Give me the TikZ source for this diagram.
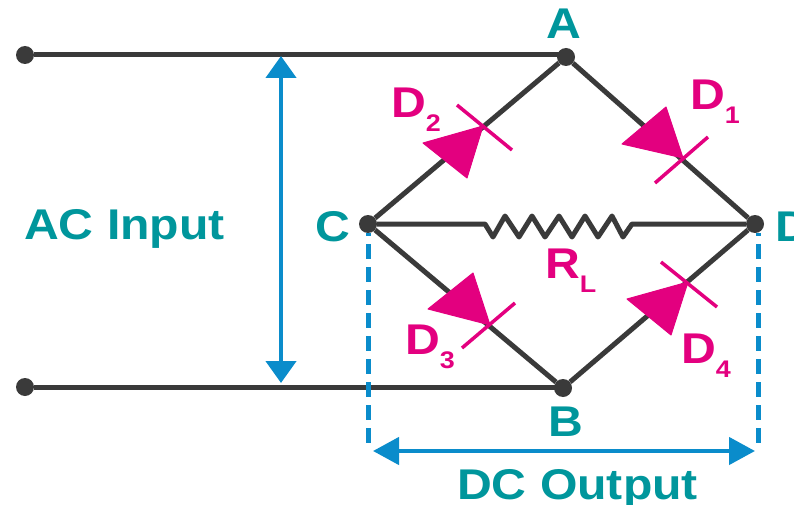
\documentclass[tikz,border=0pt]{standalone}
\usepackage{fontspec}
\setmainfont[FakeStretch=1.12]{Liberation Sans}
\usetikzlibrary{arrows.meta}

\definecolor{wiregray}{HTML}{3A3A3A}
\definecolor{labelteal}{HTML}{00969C}
\definecolor{diodepink}{HTML}{E3007F}
\definecolor{arrowblue}{HTML}{0A8CCB}

\newcommand{\sublbl}[1]{\raisebox{-14pt}{\fontsize{24}{24}\selectfont #1}}

\tikzset{
    wire/.style={draw=wiregray,line width=5pt},
    terminal/.style={circle,fill=wiregray,inner sep=0pt,minimum size=18pt},
    diodehead/.style={fill=diodepink,draw=diodepink,line width=1pt,line join=round},
    diodebar/.style={draw=diodepink,line width=3.5pt},
    measure/.style 2 args={draw=arrowblue,line width=4.5pt,{Triangle[length=#1,width=#2]}-{Triangle[length=#1,width=#2]}},
    guide/.style={draw=arrowblue,line width=5pt,dash pattern=on 15pt off 8pt,dash phase=12pt},
    tealtext/.style={text=labelteal,font=\fontsize{43}{43}\selectfont\bfseries,inner sep=0pt},
    pinktext/.style={text=diodepink,font=\fontsize{43}{43}\selectfont\bfseries,inner sep=0pt,anchor=base west}
}

\begin{document}
\begin{tikzpicture}[x=1pt,y=-1pt]

        \useasboundingbox (0,0) rectangle (794,505);

        \node[terminal] (T) at (25,55)   {};
        \node[terminal] (U) at (25,387)  {};
        \node[terminal] (A) at (566,57)  {};
        \node[terminal] (B) at (563,388) {};
        \node[terminal] (C) at (368,224) {};
        \node[terminal] (D) at (755,224) {};

        \coordinate (RLa) at (485,224);
        \coordinate (RLb) at (632,224);

        \path[wire] (T) -- (T -| A);
        \path[wire] (U) -- (U -| B);
        \path[wire] (C) -- (A);
        \path[wire] (A) -- (D);
        \path[wire] (C) -- (B);
        \path[wire] (B) -- (D);

        % load resistor
        \path[wire,line join=round] (C) -- (RLa) -- (493,237) -- (505,216) -- (519,237) -- (532,216)
              -- (545,237) -- (559,216) -- (572,237) -- (585,216) -- (598,237) -- (612,216)
              -- (623,237) -- (RLb) -- (D);

        % diodes
        \path[diodehead] (683,158) -- (666,107) -- (622,144) -- cycle;
        \path[diodebar]  (708,137) -- (655,183);
        \path[diodehead] (483,126) -- (423,143) -- (467,178) -- cycle;
        \path[diodebar]  (457,105) -- (512,150);
        \path[diodehead] (490,325) -- (473,273) -- (428,309) -- cycle;
        \path[diodebar]  (515,303) -- (462,348);
        \path[diodehead] (688,282) -- (627,299) -- (671,335) -- cycle;
        \path[diodebar]  (661,262) -- (717,307);

        % measuring arrows
        \coordinate (Iu) at (281,56);
        \coordinate (Id) at (281,383);
        \coordinate (Ol) at (373,451);
        \coordinate (Or) at (755,451);
        \coordinate (Cg) at (368,233);
        \coordinate (Cb) at (368,443);
        \coordinate (Dg) at (758,233);
        \coordinate (Db) at (758,443);

        \path[guide] (Cg) -- (Cb);
        \path[guide] (Dg) -- (Db);
        \path[measure={22pt}{30pt}] (Iu) -- (Id);
        \path[measure={26pt}{27pt}] (Ol) -- (Or);

        \node[tealtext,anchor=base]      (Alabel)  at (564,39)  {A};
        \node[tealtext,anchor=base]      (Blabel)  at (566,436) {B};
        \node[tealtext,anchor=base]      (Clabel)  at (333,241) {C};
        \node[tealtext,anchor=base west] (Dlabel)  at (775,241) {D};
        \node[tealtext,anchor=base west] (ACinput) at (24,239)  {AC Input};
        \node[tealtext,anchor=base west] (DCoutput) at (457,499) {DC Output};

        \node[pinktext] (Dtwo)   at (391,118) {D\sublbl{2}};
        \node[pinktext] (Done)   at (690,110) {D\sublbl{1}};
        \node[pinktext] (Dthree) at (405,354) {D\sublbl{3}};
        \node[pinktext] (Dfour)  at (681,363) {D\sublbl{4}};
        \node[pinktext] (RL)     at (545,278) {R\sublbl{L}};

\end{tikzpicture}
\end{document}
